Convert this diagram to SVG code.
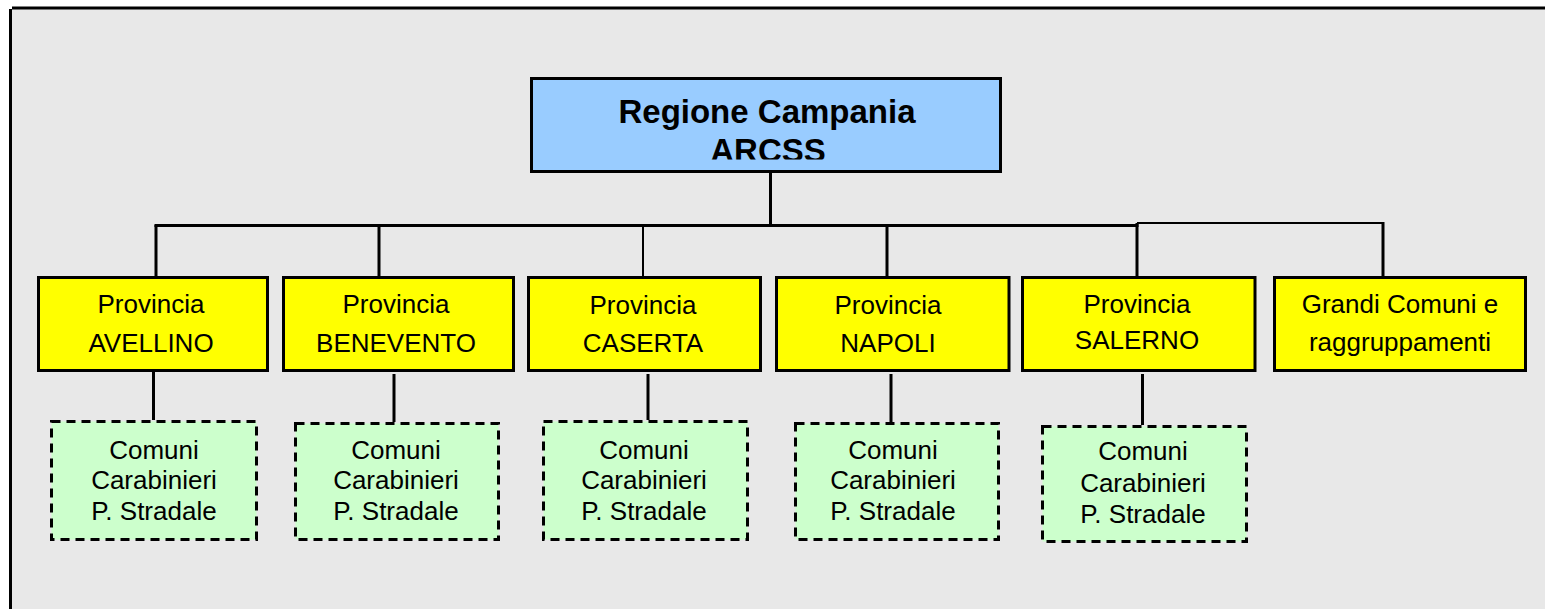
<svg xmlns="http://www.w3.org/2000/svg" width="1545" height="609" viewBox="0 0 1545 609">
  <style>
    .frame { stroke: #000; stroke-width: 3; fill: none; }
    .root { fill: #99ccff; stroke: #000; stroke-width: 3; }
    .prov { fill: #ffff00; stroke: #000; stroke-width: 3; }
    .sub { fill: #ccffcc; stroke: #000; stroke-width: 3; stroke-dasharray: 9 6; }
    .conn line { stroke: #000; stroke-width: 3; }
    .conn line.thin { stroke-width: 2; }
    text { font-family: "Liberation Sans", Arial, sans-serif; font-size: 26px; fill: #000; text-anchor: middle; }
    .title { font-weight: bold; font-size: 33px; }
  </style>
  <defs>
    <clipPath id="rootclip">
      <rect x="533" y="80" width="466" height="79.5"/>
    </clipPath>
  </defs>
  <rect x="0" y="0" width="1545" height="609" fill="#ffffff"/>
  <rect x="11" y="9" width="1534" height="600" fill="#e8e8e8"/>
  <line class="frame" x1="12" y1="8" x2="1545" y2="8"/>
  <line class="frame" x1="10.5" y1="9" x2="10.5" y2="609"/>

  <g id="connectors" class="conn">
    <line x1="770.5" y1="173" x2="770.5" y2="225"/>
    <line x1="154.5" y1="225.5" x2="1138.5" y2="225.5"/>
    <line class="thin" x1="1137" y1="223" x2="1384" y2="223"/>
    <line x1="156" y1="225" x2="156" y2="276"/>
    <line x1="379" y1="225" x2="379" y2="276"/>
    <line class="thin" x1="643" y1="225" x2="643" y2="276"/>
    <line x1="887" y1="225" x2="887" y2="276"/>
    <line x1="1137" y1="223" x2="1137" y2="276"/>
    <line x1="1383" y1="222" x2="1383" y2="276"/>
    <line x1="153.5" y1="372" x2="153.5" y2="420"/>
    <line x1="394" y1="374" x2="394" y2="422"/>
    <line x1="648" y1="374" x2="648" y2="420"/>
    <line x1="891" y1="374" x2="891" y2="422"/>
    <line x1="1142.5" y1="374" x2="1142.5" y2="425"/>
  </g>

  <g id="regione">
    <rect class="root" x="531.5" y="78.5" width="469" height="93"/>
    <g clip-path="url(#rootclip)">
      <text class="title" x="767" y="123">Regione Campania</text>
      <text class="title" x="768" y="162">ARCSS</text>
    </g>
  </g>

  <g id="avellino">
    <rect class="prov" x="38.5" y="277.5" width="229" height="93"/>
    <text x="151" y="313">Provincia</text>
    <text x="151" y="352">AVELLINO</text>
  </g>
  <g id="benevento">
    <rect class="prov" x="283.5" y="277.5" width="230" height="93"/>
    <text x="396" y="313">Provincia</text>
    <text x="396" y="352">BENEVENTO</text>
  </g>
  <g id="caserta">
    <rect class="prov" x="528.5" y="277.5" width="232" height="93"/>
    <text x="643" y="314">Provincia</text>
    <text x="643" y="352">CASERTA</text>
  </g>
  <g id="napoli">
    <rect class="prov" x="776.5" y="277.5" width="232.5" height="93"/>
    <text x="888" y="314">Provincia</text>
    <text x="888" y="352">NAPOLI</text>
  </g>
  <g id="salerno">
    <rect class="prov" x="1022.5" y="277.5" width="232.5" height="93"/>
    <text x="1137" y="313">Provincia</text>
    <text x="1137" y="349">SALERNO</text>
  </g>
  <g id="grandi-comuni">
    <rect class="prov" x="1274.5" y="277.5" width="251" height="93"/>
    <text x="1400" y="313">Grandi Comuni e</text>
    <text x="1400" y="351">raggruppamenti</text>
  </g>

  <g id="sub-avellino">
    <rect class="sub" x="51.5" y="421.5" width="205" height="118"/>
    <text x="154" y="459">Comuni</text>
    <text x="154" y="489">Carabinieri</text>
    <text x="154" y="520">P. Stradale</text>
  </g>
  <g id="sub-benevento">
    <rect class="sub" x="295.5" y="423.5" width="203" height="116"/>
    <text x="396" y="459">Comuni</text>
    <text x="396" y="489">Carabinieri</text>
    <text x="396" y="520">P. Stradale</text>
  </g>
  <g id="sub-caserta">
    <rect class="sub" x="543.5" y="421.5" width="204" height="118"/>
    <text x="644" y="459">Comuni</text>
    <text x="644" y="489">Carabinieri</text>
    <text x="644" y="520">P. Stradale</text>
  </g>
  <g id="sub-napoli">
    <rect class="sub" x="795.5" y="423.5" width="203" height="116"/>
    <text x="893" y="459">Comuni</text>
    <text x="893" y="489">Carabinieri</text>
    <text x="893" y="520">P. Stradale</text>
  </g>
  <g id="sub-salerno">
    <rect class="sub" x="1042.5" y="426.5" width="204" height="115"/>
    <text x="1143" y="460">Comuni</text>
    <text x="1143" y="492">Carabinieri</text>
    <text x="1143" y="523">P. Stradale</text>
  </g>
</svg>
